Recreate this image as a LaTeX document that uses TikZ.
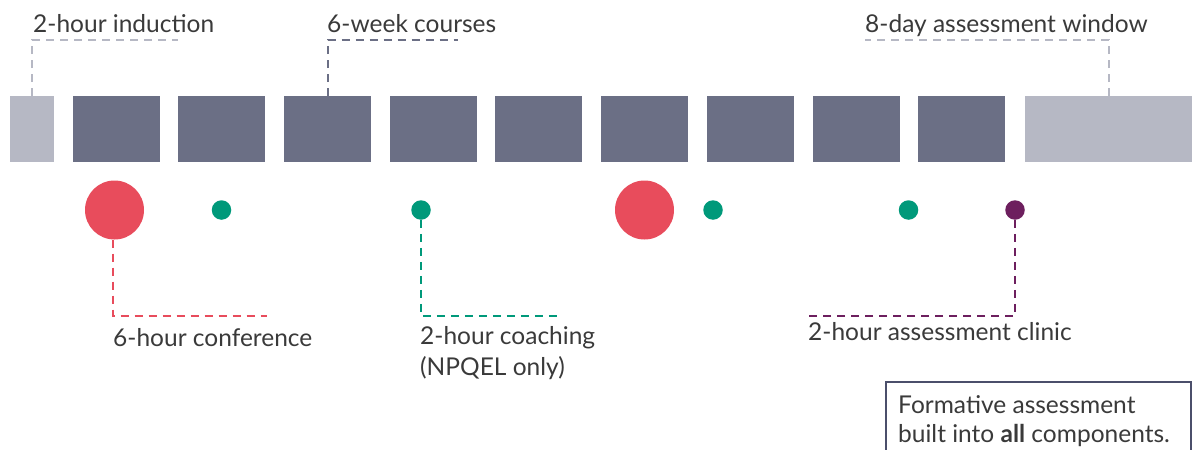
\documentclass[tikz,border=0pt]{standalone}
\usepackage{fontspec}
\setmainfont{Lato}
\definecolor{darkslate}{HTML}{6B6F85}
\definecolor{lightslate}{HTML}{B6B8C4}
\definecolor{confred}{HTML}{E84C5C}
\definecolor{coachgreen}{HTML}{00997A}
\definecolor{clinicpurple}{HTML}{6D1F5E}
\definecolor{txtgrey}{HTML}{3A3A3A}
\definecolor{frameblue}{HTML}{4B4F6B}
\begin{document}
\begin{tikzpicture}[x=1pt,y=-1pt,
  blk/.style={rectangle, inner sep=0pt, anchor=north west, minimum height=66pt},
  darkblk/.style={blk, fill=darkslate, minimum width=87pt},
  lightblk/.style={blk, fill=lightslate},
  bigdot/.style={circle, inner sep=0pt, minimum size=59pt, fill=confred},
  smalldot/.style={circle, inner sep=0pt, minimum size=19.5pt},
  lbl/.style={anchor=base west, inner sep=0pt, text=txtgrey, font=\fontsize{24.5}{29}\selectfont},
  dashline/.style={line width=1.8pt, dash pattern=on 8pt off 6pt},
]
\clip (0,0) rectangle (1192,450);
\useasboundingbox (0,0) rectangle (1192,450);
% blocks
\node[lightblk, minimum width=44pt] (b1) at (10,96) {};
\node[darkblk] (b2) at (73,96) {};
\node[darkblk] (b3) at (178,96) {};
\node[darkblk] (b4) at (284,96) {};
\node[darkblk] (b5) at (390,96) {};
\node[darkblk] (b6) at (495,96) {};
\node[darkblk] (b7) at (601,96) {};
\node[darkblk] (b8) at (707,96) {};
\node[darkblk] (b9) at (813,96) {};
\node[darkblk] (b10) at (918,96) {};
\node[lightblk, minimum width=167pt] (b11) at (1025,96) {};
% top labels
\node[lbl] (tind) at (33,32) {2-hour induction};
\node[lbl] (tcourse) at (327,32) {6-week courses};
\node[lbl] (twin) at (865,32) {8-day assessment window};
\coordinate (indend) at (178,40);
\coordinate (courseend) at (458,40);
\coordinate (winend) at (865,40);
\draw[dashline, lightslate] (b1.north) |- (indend);
\draw[dashline, darkslate] (b4.north) |- (courseend);
\draw[dashline, lightslate] (b11.north) |- (winend);
% dots
\node[bigdot] (conf1) at (114.5,210) {};
\node[smalldot, fill=coachgreen] (g1) at (221.5,210) {};
\node[smalldot, fill=coachgreen] (g2) at (421,210) {};
\node[bigdot] (conf2) at (644.5,210) {};
\node[smalldot, fill=coachgreen] (g3) at (713,210) {};
\node[smalldot, fill=coachgreen] (g4) at (908.5,210) {};
\node[smalldot, fill=clinicpurple] (p1) at (1015,210) {};
% bottom labels
\coordinate (confend) at (267,316);
\coordinate (coachend) at (557,316);
\coordinate (clinicend) at (807,316);
\draw[dashline, confred] (conf1.south -| 113,0) |- (confend);
\draw[dashline, coachgreen] (g2.south) |- (coachend);
\draw[dashline, clinicpurple] (p1.south) |- (clinicend);
\node[lbl] (lconf) at (113,346) {6-hour conference};
\node[lbl] (lcoach1) at (420,344) {2-hour coaching};
\node[lbl] (lcoach2) at (420,375) {(NPQEL only)};
\node[lbl] (lclinic) at (808,340) {2-hour assessment clinic};
% formative box
\node[rectangle, draw=frameblue, line width=2.2pt, inner sep=0pt, anchor=north west,
      minimum width=305pt, minimum height=100pt] (fbox) at (884.5,380.5) {};
\node[lbl] (f1) at (898,413) {Formative assessment};
\node[lbl] (f2) at (898,442) {built into \textbf{all} components.};
\end{tikzpicture}
\end{document}
